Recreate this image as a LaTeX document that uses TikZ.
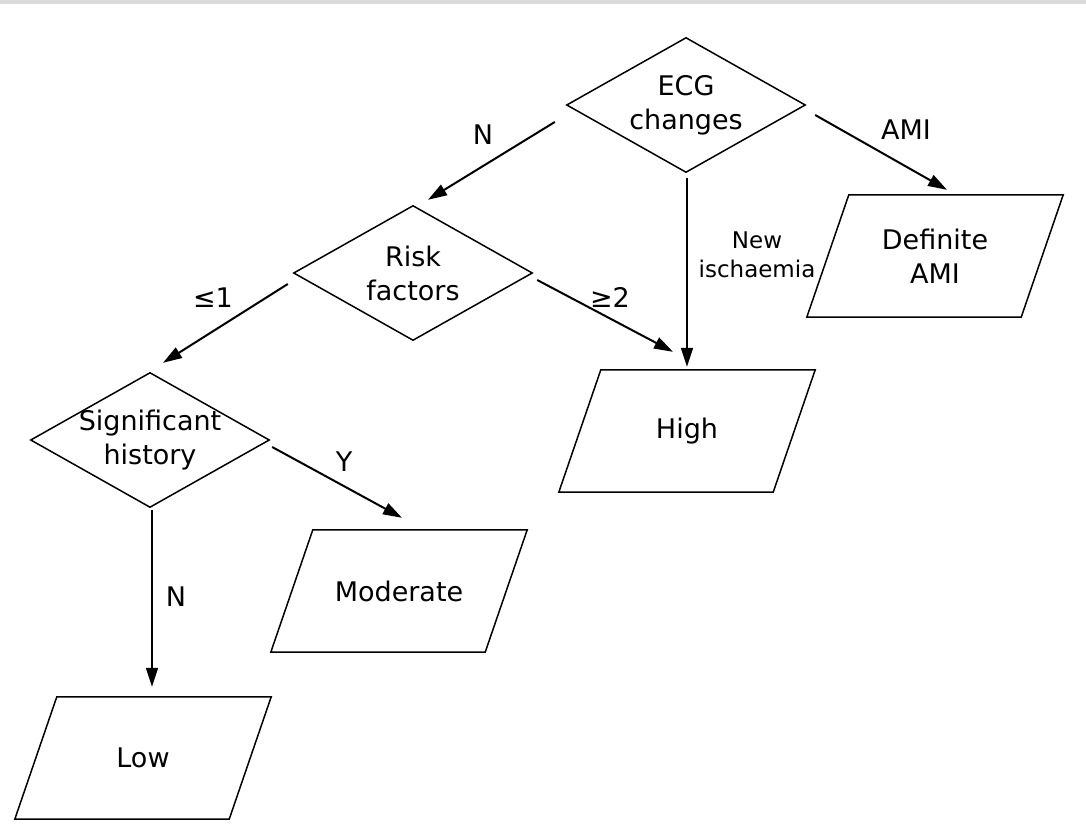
\documentclass[tikz,border=0pt]{standalone}
\usepackage{fontspec}
\setmainfont{DejaVu Sans}
\usetikzlibrary{arrows.meta,calc}

\begin{document}
\begin{tikzpicture}[x=1pt,y=-1pt,
  decision/.style={minimum width=238pt, minimum height=134pt, inner sep=0pt,
    align=center, font=\fontsize{27}{34}\selectfont},
  outcome/.style={minimum width=256pt, minimum height=122pt, inner sep=0pt,
    align=center, font=\fontsize{27}{34}\selectfont},
  shapeline/.style={line width=1.5pt, line join=miter},
  arr/.style={line width=2pt, -{Triangle[length=19pt,width=12pt]}},
  lbl/.style={font=\fontsize{27}{34}\selectfont, inner sep=0pt},
  smalllbl/.style={font=\fontsize{23}{29}\selectfont, inner sep=0pt, align=center}]

\useasboundingbox (0,0) rectangle (1086,832);
\fill[black!14] (0,0) rectangle (1086,4);

% decision nodes
\node[decision] (ecg)  at (686,105) {ECG\\changes};
\node[decision] (risk) at (413,273) {Risk\\factors};
\node[decision] (sig)  at (150,440) {Significant\\history};

% outcome nodes
\node[outcome] (ami)  at (935,256) {Definite\\AMI};
\node[outcome] (high) at (687,431) {High};
\node[outcome] (mod)  at (399,591) {Moderate};
\node[outcome] (low)  at (143,758) {Low};

% diamond outlines
\foreach \n in {ecg,risk,sig}
  \draw[shapeline] (\n.north) -- (\n.east) -- (\n.south) -- (\n.west) -- cycle;

% parallelogram outlines
\foreach \n in {ami,high,mod,low}
  \draw[shapeline] ([xshift=42pt]\n.north west) -- (\n.north east)
    -- ([xshift=-42pt]\n.south east) -- (\n.south west) -- cycle;

% connectors
\draw[arr] ([shift={(-12,17)}]ecg.west) -- ([shift={(15,-6)}]risk.north);
\draw[arr] ([shift={(10,10)}]ecg.east) -- ([shift={(12,-5)}]ami.north);
\draw[arr] ([shift={(1,6)}]ecg.south) -- ([shift={(0,-3)}]high.north);
\draw[arr] ([shift={(5,7)}]risk.east) -- ([shift={(-14,-18)}]high.north);
\draw[arr] ([shift={(-6,11)}]risk.west) -- ([shift={(13,-10)}]sig.north);
\draw[arr] ([shift={(3,7)}]sig.east) -- ([shift={(3,-12)}]mod.north);
\draw[arr] ([shift={(2,3)}]sig.south) -- ([shift={(9,-10)}]low.north);

% connector labels
\node[lbl] (lN1) at (483,135) {N};
\node[lbl] (lAMI) at (906,130) {AMI};
\node[smalllbl] (lNew) at (757,255) {New\\ischaemia};
\node[lbl] (lGe) at (610,297) {≥2};
\node[lbl] (lLe) at (213,298) {≤1};
\node[lbl] (lY) at (344,462) {Y};
\node[lbl] (lN2) at (176,597) {N};
\end{tikzpicture}
\end{document}
